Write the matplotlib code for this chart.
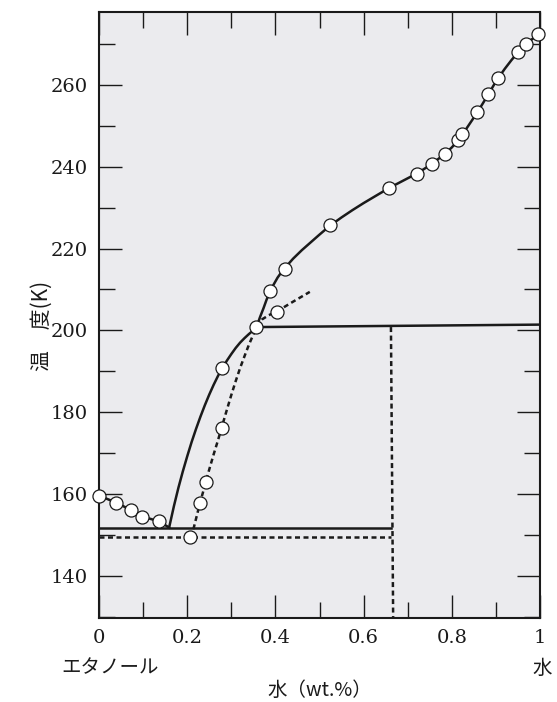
import matplotlib
matplotlib.use("Agg")
import matplotlib.pyplot as plt
from matplotlib.ticker import MultipleLocator, FixedLocator, FixedFormatter

# ---- data ----
# measured points (open circles)
pts_x = [0.0, 0.039, 0.072, 0.098, 0.137,
         0.206, 0.229, 0.242, 0.278, 0.280, 0.357, 0.403, 0.388, 0.422,
         0.524, 0.658, 0.722, 0.754, 0.785, 0.815, 0.824, 0.858, 0.883,
         0.905, 0.951, 0.968, 0.995]
pts_T = [159.6, 157.9, 156.1, 154.5, 153.3,
         149.5, 157.8, 163.0, 176.2, 190.8, 200.7, 204.5, 209.7, 215.1,
         225.8, 234.9, 238.3, 240.7, 243.0, 246.4, 247.9, 253.3, 257.7,
         261.7, 268.1, 270.0, 272.5]

# ethanol-side liquidus (solid)
left_x = [0.0, 0.039, 0.072, 0.098, 0.137, 0.159]
left_T = [159.6, 157.9, 156.1, 154.5, 153.3, 151.8]

# water-side liquidus (solid)
liq_x = [0.159, 0.17, 0.18, 0.19, 0.20, 0.21, 0.22, 0.23, 0.24, 0.25, 0.26, 0.27,
         0.28, 0.29, 0.30, 0.31, 0.32, 0.33, 0.34, 0.35, 0.357,
         0.365, 0.373, 0.38, 0.388, 0.395, 0.405, 0.413, 0.422, 0.44, 0.46, 0.48,
         0.50, 0.524, 0.55, 0.575, 0.60, 0.625, 0.658, 0.69, 0.722, 0.754, 0.785,
         0.80, 0.815, 0.83, 0.845, 0.858, 0.87, 0.883, 0.895, 0.905, 0.92, 0.935,
         0.951, 0.968, 0.985, 1.0]
liq_T = [151.8, 157.1, 161.5, 165.5, 169.2, 172.7, 175.9, 178.9, 181.7, 184.3, 186.7, 188.9,
         190.8, 192.6, 194.2, 195.7, 197.0, 198.1, 199.1, 200.0, 200.7,
         203.2, 205.4, 207.5, 209.5, 211.0, 212.9, 214.1, 215.3, 217.5, 219.6, 221.5,
         223.4, 225.6, 227.6, 229.4, 231.1, 232.7, 234.8, 236.6, 238.4, 240.6, 243.2,
         244.7, 246.5, 248.8, 251.2, 253.3, 255.4, 257.7, 259.9, 261.6, 263.9, 266.0,
         268.1, 270.0, 271.4, 272.5]

# metastable curve (dashed)
meta_x = [0.206, 0.215, 0.222, 0.229, 0.236, 0.242, 0.25, 0.26, 0.27, 0.278, 0.29,
          0.30, 0.31, 0.32, 0.33, 0.34, 0.35, 0.36, 0.37, 0.385, 0.403, 0.44, 0.478]
meta_T = [149.5, 151.8, 154.8, 157.8, 160.5, 163.0, 166.0, 169.7, 173.2, 176.2, 180.6,
          184.2, 187.6, 190.8, 193.7, 196.5, 199.0, 201.2, 202.7, 203.7, 204.6, 207.0, 209.4]

# horizontal / vertical lines
eut_x = [0.0, 0.662]
eut_T = [151.7, 151.7]
meta_eut_x = [0.0, 0.662]
meta_eut_T = [149.6, 149.6]
peri_x = [0.357, 1.0]
peri_T = [200.8, 201.4]
vert_x = [0.662, 0.667]
vert_T = [200.8, 129.7]

xticks = [0, 0.2, 0.4, 0.6, 0.8, 1.0]
xticklabels = ["0", "0.2", "0.4", "0.6", "0.8", "1"]
yticks = [140, 160, 180, 200, 220, 240, 260]

# ---- figure ----
fig = plt.figure(figsize=(5.57, 7.02), dpi=100)
ax = fig.add_axes([99/557, 1-618/702, 441/557, 606/702])
ax.set_facecolor("#ebebee")
ax.set_xlim(0, 1)
ax.set_ylim(129.7, 277.8)

ink = "#1a1a1a"
lw = 1.8
dash = (0, (2.0, 1.4))
ax.plot(left_x, left_T, color=ink, lw=lw, zorder=3)
ax.plot(liq_x, liq_T, color=ink, lw=lw, zorder=3, clip_on=False)
ax.plot(eut_x, eut_T, color=ink, lw=lw, zorder=3)
ax.plot(peri_x, peri_T, color=ink, lw=lw, zorder=3)
ax.plot(meta_x, meta_T, color=ink, lw=1.8, ls=dash, zorder=3)
ax.plot(meta_eut_x, meta_eut_T, color=ink, lw=1.8, ls=dash, zorder=3)
ax.plot(vert_x, vert_T, color=ink, lw=1.8, ls=dash, zorder=3)

ax.plot(pts_x, pts_T, ls="none", marker="o", ms=9.4, mfc="white", mec=ink,
        mew=0.9, zorder=5, clip_on=False)

for s in ax.spines.values():
    s.set_linewidth(1.5)
    s.set_color(ink)

ax.xaxis.set_major_locator(FixedLocator(xticks))
ax.xaxis.set_major_formatter(FixedFormatter(xticklabels))
ax.xaxis.set_minor_locator(MultipleLocator(0.1))
ax.yaxis.set_major_locator(FixedLocator(yticks))
ax.yaxis.set_minor_locator(MultipleLocator(10))

ax.tick_params(which="both", direction="in", top=True, right=True, color=ink,
               width=1.0)
ax.tick_params(which="major", length=16.5, pad=8)
ax.tick_params(which="minor", length=11.5)
for lab in ax.get_xticklabels() + ax.get_yticklabels():
    lab.set_fontfamily("DejaVu Serif")
    lab.set_fontsize(14)
    lab.set_color(ink)

jp = ["Noto Sans CJK JP", "DejaVu Sans"]
fig.text(110/557, 1-668/702, "エタノール", family=jp, fontsize=14,
         ha="center", va="center", color=ink)
fig.text(542/557, 1-668/702, "水", family=jp, fontsize=14,
         ha="center", va="center", color=ink)
fig.text(320/557, 1-690/702, "水（wt.%）", family=jp, fontsize=14,
         ha="center", va="center", color=ink)
fig.text(42/557, 1-326/702, "温\u3000度(K)", family=jp, fontsize=15,
         ha="center", va="center", rotation=90, color=ink)

fig.savefig("out.png", dpi=100)
